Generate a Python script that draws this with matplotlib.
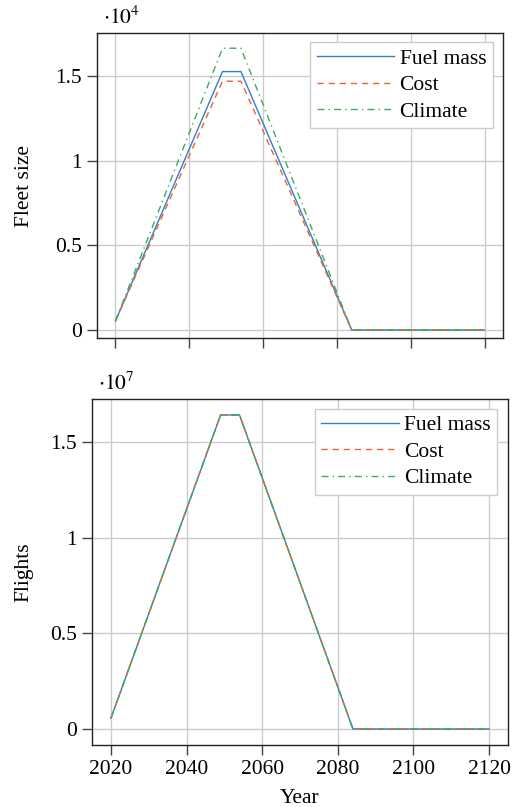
import matplotlib
matplotlib.use("Agg")
import matplotlib.pyplot as plt
from matplotlib.ticker import FuncFormatter

plt.rcParams['font.family'] = ['Liberation Serif', 'DejaVu Serif']
plt.rcParams['mathtext.fontset'] = 'stix'
plt.rcParams['font.size'] = 15.5

# data
years = [2020, 2049, 2054, 2084, 2120]
fleet_fuel = [530, 15260, 15260, 0, 0]
fleet_cost = [530, 14690, 14690, 0, 0]
fleet_climate = [530, 16640, 16640, 0, 0]
flights_fuel = [5.6e5, 1.641e7, 1.641e7, 0, 0]
flights_cost = [5.6e5, 1.641e7, 1.641e7, 0, 0]
flights_climate = [5.6e5, 1.641e7, 1.641e7, 0, 0]
labels = ['Fuel mass', 'Cost', 'Climate']
xticks = [2020, 2040, 2060, 2080, 2100, 2120]

colors = ['#2f80c8', '#f2622a', '#3aae5a']
styles = ['-', (0, (4.5, 3.5)), (0, (5, 3, 1, 3))]


def fmt(scale):
    def f(v, pos):
        return '%g' % round(v / scale, 3)
    return FuncFormatter(f)


def style_ax(ax, scale, yticks):
    ax.set_xlim(2015, 2125)
    ax.set_xticks(xticks)
    ax.set_yticks(yticks)
    ax.yaxis.set_major_formatter(fmt(scale))
    ax.grid(True, color='#cccccc', linewidth=1.0)
    ax.set_axisbelow(True)
    ax.tick_params(direction='out', length=7, width=1, color='#444444', pad=4)
    for s in ax.spines.values():
        s.set_linewidth(1.0)
        s.set_color('#222222')


fig = plt.figure(figsize=(5.17, 8.07), dpi=100)
ax1 = fig.add_axes([0.1876, 0.5808, 0.7853, 0.3779])
ax2 = fig.add_axes([0.1780, 0.0768, 0.8046, 0.4284])

for data, lab, c, ls in zip([fleet_fuel, fleet_cost, fleet_climate], labels, colors, styles):
    ax1.plot(years, data, color=c, linestyle=ls, linewidth=1.0, label=lab)
for data, lab, c, ls in zip([flights_fuel, flights_cost, flights_climate], labels, colors, styles):
    ax2.plot(years, data, color=c, linestyle=ls, linewidth=1.0, label=lab)

style_ax(ax1, 1e4, [0, 5000, 10000, 15000])
ax1.set_ylim(-490, 17520)
ax1.set_xticklabels([])
ax1.set_ylabel('Fleet size')
ax1.yaxis.set_label_coords(-0.155, 0.5)
fig.text(0.200, 0.978, r'$\cdot10^{4}$', ha='left', va='center', fontsize=15.5)

style_ax(ax2, 1e7, [0, 5e6, 1e7, 1.5e7])
ax2.set_ylim(-0.084e7, 1.723e7)
ax2.set_ylabel('Flights')
ax2.yaxis.set_label_coords(-0.14, 0.5)
ax2.set_xlabel('Year')
ax2.xaxis.set_label_coords(0.5, -0.128)
fig.text(0.190, 0.525, r'$\cdot10^{7}$', ha='left', va='center', fontsize=15.5)

for ax in (ax1, ax2):
    leg = ax.legend(loc='upper right', bbox_to_anchor=(0.985, 0.985), handlelength=3.6,
                    handletextpad=0.25, labelspacing=0.3, borderpad=0.3,
                    fancybox=False, framealpha=1.0, borderaxespad=0.2)
    leg.get_frame().set_edgecolor('#cccccc')
    leg.get_frame().set_linewidth(1.0)

fig.savefig('out.png', dpi=100)
